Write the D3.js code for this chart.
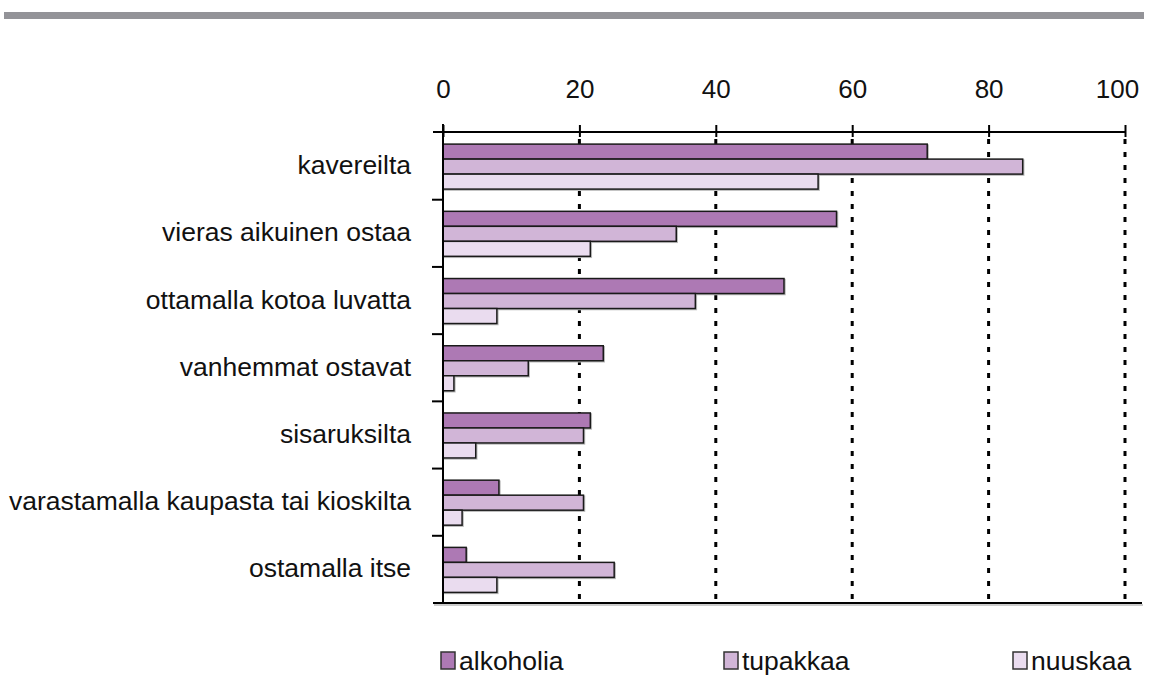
<!DOCTYPE html>
<html>
<head>
<meta charset="utf-8">
<script src="https://cdn.jsdelivr.net/npm/d3@7"></script>
<style>
	body { margin: 0; background: #fff; }
	text { font-family: "Liberation Sans", Arial, Helvetica, sans-serif; fill: #111; }
</style>
</head>
<body>
<script>

/* Data */

var categories = ["kavereilta", "vieras aikuinen ostaa", "ottamalla kotoa luvatta", "vanhemmat ostavat",
	"sisaruksilta", "varastamalla kaupasta tai kioskilta", "ostamalla itse"];

var seriesNames = ["alkoholia", "tupakkaa", "nuuskaa"];
var seriesColors = ["#ad79b4", "#d1b5d7", "#eadcef"];

var alkoholia = [71, 57.7, 50, 23.5, 21.6, 8.2, 3.4];
var tupakkaa = [85, 34.2, 37, 12.5, 20.6, 20.6, 25.1];
var nuuskaa = [55, 21.6, 7.9, 1.6, 4.8, 2.8, 7.9];

var xTicks = [0, 20, 40, 60, 80, 100];


/* Canvas */

var width = 1149;
var height = 676;

var svg = d3.select("body").append("svg")
	.attr("width", width)
	.attr("height", height);

// grey rule across the top
svg.append("rect")
	.attr("x", 4).attr("y", 12)
	.attr("width", 1140).attr("height", 7)
	.attr("fill", "#939398");

var x = d3.scaleLinear().domain([0, 100]).range([443, 1125]);

var y = d3.scaleBand().domain(categories).range([132.5, 603]);

var ySeries = d3.scaleBand().domain(seriesNames).range([0, 45]);

var values = [alkoholia, tupakkaa, nuuskaa];

// dotted grid
svg.append("g")
	.selectAll("line")
	.data(xTicks.slice(1))
	.enter().append("line")
		.attr("x1", function(d) { return x(d); })
		.attr("x2", function(d) { return x(d); })
		.attr("y1", 139)
		.attr("y2", 603)
		.attr("stroke", "#000")
		.attr("stroke-width", 3)
		.attr("stroke-dasharray", "5,8");

// bars
var groups = svg.append("g")
	.selectAll("g")
	.data(categories)
	.enter().append("g")
		.attr("transform", function(d) {
			return "translate(0," + (y(d) + (y.bandwidth() - 45) / 2 + 0.5) + ")";
		});

groups.selectAll("rect.shadow")
	.data(function(d, i) { return values.map(function(v, s) { return {s: s, v: v[i]}; }); })
	.enter().append("rect")
		.attr("class", "shadow")
		.attr("x", x(0) + 1)
		.attr("y", function(d) { return ySeries(seriesNames[d.s]) + 1; })
		.attr("width", function(d) { return x(d.v) - x(0); })
		.attr("height", ySeries.bandwidth())
		.attr("fill", "none")
		.attr("stroke", "#bbb")
		.attr("stroke-width", 1.5);

groups.selectAll("rect.bar")
	.data(function(d, i) { return values.map(function(v, s) { return {s: s, v: v[i]}; }); })
	.enter().append("rect")
		.attr("class", "bar")
		.attr("x", x(0))
		.attr("y", function(d) { return ySeries(seriesNames[d.s]); })
		.attr("width", function(d) { return x(d.v) - x(0); })
		.attr("height", ySeries.bandwidth())
		.attr("fill", function(d) { return seriesColors[d.s]; })
		.attr("stroke", "#1a1a1a")
		.attr("stroke-width", 1.5);

// top axis
var xAxis = svg.append("g")
	.attr("transform", "translate(0,132)")
	.call(d3.axisTop(x).tickValues(xTicks).tickSize(7).tickPadding(0));

xAxis.select(".domain").remove();
xAxis.selectAll(".tick line")
	.attr("y1", -7).attr("y2", 5)
	.attr("stroke", "#000")
	.attr("stroke-width", 2);
xAxis.selectAll(".tick text")
	.attr("y", -34)
	.attr("dx", function(d) { return d == 100 ? -8 : 0; })
	.style("font-size", "26px")
	.style("font-family", "'Liberation Sans', Arial, sans-serif")
	.attr("fill", "#111");

svg.append("line")
	.attr("x1", 433).attr("x2", x(100))
	.attr("y1", 132).attr("y2", 132)
	.attr("stroke", "#000").attr("stroke-width", 2);

// left axis and category ticks
svg.append("line")
	.attr("x1", x(0)).attr("x2", x(0))
	.attr("y1", 124).attr("y2", 604)
	.attr("stroke", "#000").attr("stroke-width", 2);

svg.append("g")
	.selectAll("line")
	.data(categories.slice(1))
	.enter().append("line")
		.attr("x1", 432)
		.attr("x2", x(0))
		.attr("y1", function(d) { return y(d); })
		.attr("y2", function(d) { return y(d); })
		.attr("stroke", "#000")
		.attr("stroke-width", 2);

// bottom line
svg.append("line")
	.attr("x1", 434).attr("x2", 1143)
	.attr("y1", 605).attr("y2", 605)
	.attr("stroke", "#ccc").attr("stroke-width", 2);
svg.append("line")
	.attr("x1", 433).attr("x2", 1142)
	.attr("y1", 603).attr("y2", 603)
	.attr("stroke", "#000").attr("stroke-width", 2);

// category labels
svg.append("g")
	.selectAll("text")
	.data(categories)
	.enter().append("text")
		.attr("x", 411)
		.attr("y", function(d) { return y(d) + y.bandwidth() / 2 + 8; })
		.attr("text-anchor", "end")
		.style("font-size", "26.5px")
		.text(function(d) { return d; });

// legend
var legendX = [441, 724, 1013];

var legend = svg.append("g")
	.selectAll("g")
	.data(seriesNames)
	.enter().append("g")
		.attr("transform", function(d, i) { return "translate(" + legendX[i] + ",652)"; });

legend.append("rect")
	.attr("width", 14)
	.attr("height", 17)
	.attr("fill", function(d, i) { return seriesColors[i]; })
	.attr("stroke", "#333")
	.attr("stroke-width", 1.5);

legend.append("text")
	.attr("x", 18)
	.attr("y", 18)
	.style("font-size", "26.5px")
	.text(function(d) { return d; });

</script>
</body>
</html>
